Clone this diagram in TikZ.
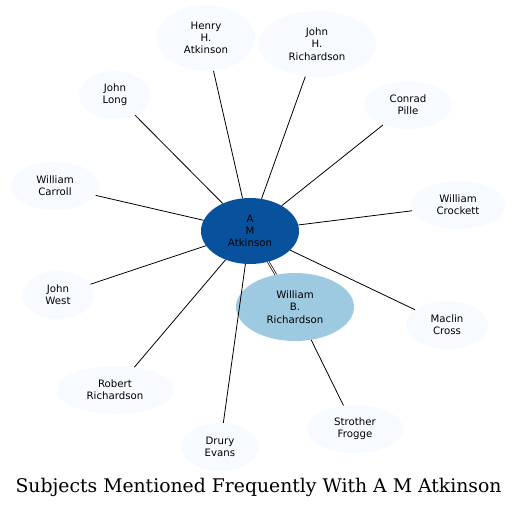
\documentclass[tikz,border=0pt]{standalone}
\usepackage{fontspec}
\setsansfont{DejaVu Sans}
\newfontfamily\titlefont{DejaVu Serif}
\usetikzlibrary{shapes.geometric}
\definecolor{hub}{HTML}{08519C}
\definecolor{mid}{HTML}{9ECAE1}
\definecolor{pale}{HTML}{F7FBFF}
\begin{document}
\begin{tikzpicture}[x=1pt,y=-1pt,
  person/.style={ellipse,fill=pale,inner sep=0pt,align=center,font=\sffamily\fontsize{10.2}{12.3}\selectfont},
  link/.style={draw=black,line width=0.8pt}]
\useasboundingbox (0,0) rectangle (517,507);
\node[person,minimum width=98,minimum height=66] (ha) at (206,38) {Henry\\H.\\Atkinson};
\node[person,minimum width=118,minimum height=66] (jhr) at (317,44) {John\\H.\\Richardson};
\node[person,minimum width=72,minimum height=48] (jl) at (115,95) {John\\Long};
\node[person,minimum width=88,minimum height=48] (cp) at (408,105) {Conrad\\Pille};
\node[person,minimum width=88,minimum height=48] (wc) at (55,186) {William\\Carroll};
\node[person,minimum width=94,minimum height=48] (wcr) at (458,205) {William\\Crockett};
\node[person,minimum width=72,minimum height=48] (jw) at (58,295) {John\\West};
\node[person,minimum width=82,minimum height=48] (mc) at (447,325) {Maclin\\Cross};
\node[person,minimum width=118,minimum height=48] (rr) at (115,390) {Robert\\Richardson};
\node[person,minimum width=78,minimum height=48] (de) at (220,447) {Drury\\Evans};
\node[person,minimum width=96,minimum height=48] (sf) at (355,429) {Strother\\Frogge};
\node[person,fill=mid,minimum width=118,minimum height=68] (wbr) at (295,307) {William\\B.\\Richardson};
\node[person,fill=hub,minimum width=98,minimum height=66] (am) at (250,231) {A\\M\\Atkinson};
\foreach \n in {ha,jhr,jl,cp,wc,wcr,jw,mc,rr,de}
  \draw[link] (am) -- (\n);
\draw[link] (wbr) -- (sf);
\draw[draw=black,line width=0.7pt,double=white,double distance=1pt] (am) -- (wbr);
\node[font=\titlefont\fontsize{18.8}{22}\selectfont] (title) at (258.5,487) {Subjects Mentioned Frequently With A M Atkinson};
\end{tikzpicture}
\end{document}
